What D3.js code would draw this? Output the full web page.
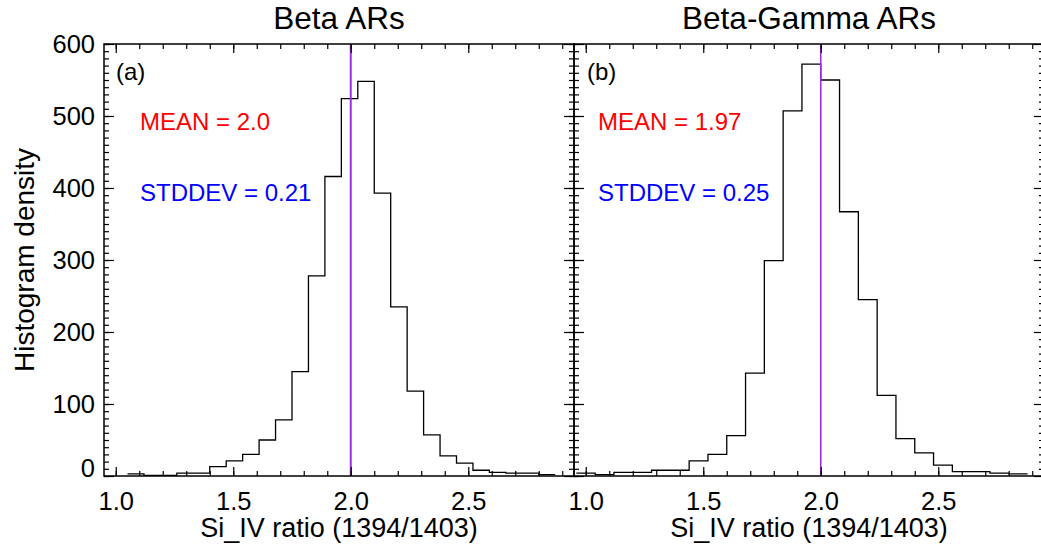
<!DOCTYPE html>
<meta charset="utf-8">
<title>Si IV ratio histograms</title>
<style>
body { margin: 0; background: #fff; }
svg { display: block; font-family: "Liberation Sans", Arial, sans-serif; }
.frame { fill: none; stroke: #000; stroke-width: 1.5; }
.axis path { display: none; }
.axis line { stroke: #000; stroke-width: 1.2; }
.axis text { font-size: 25.5px; fill: #000; font-family: "Liberation Sans", Arial, sans-serif; }
.hist { fill: none; stroke: #000; stroke-width: 1.3; }
.mean { stroke: #9b30e0; }
</style>
<svg width="1041" height="550"></svg>
<script src="https://d3js.org/d3.v7.min.js"></script>
<script>
// bin starts / widths
const betaStart = 1.05, betaWidth = 0.07;
const betaCounts = [3, 1, 1, 4, 4, 13, 21, 30, 50, 78, 145, 278, 416, 524, 548, 393, 235, 118, 57, 28, 18, 8, 5, 4, 4, 2];
const bgStart = 0.96, bgWidth = 0.08;
const bgCounts = [4, 2, 5, 5, 8, 8, 21, 30, 56, 143, 299, 507, 572, 550, 367, 245, 112, 52, 32, 15, 6, 6, 4, 3];

const panelTitles = ["Beta ARs", "Beta-Gamma ARs"];
const panelTags = ["(a)", "(b)"];
const meanLabels = ["MEAN = 2.0", "MEAN = 1.97"];
const stdLabels = ["STDDEV = 0.21", "STDDEV = 0.25"];
const meanLines = [2.0, 2.0];
const xMajor = [1.0, 1.5, 2.0, 2.5];
const yMajor = [0, 100, 200, 300, 400, 500, 600];

const svg = d3.select("svg");
const W = 470, H = 432, plotTop = 44;
const lefts = [104, 574];
const textLeft = [[116, 140], [587, 598]];

const x = d3.scaleLinear().domain([0.95, 2.95]).range([0, W]);
const y = d3.scaleLinear().domain([0, 600]).range([H, 0]);
const xMinor = d3.range(1.0, 2.95, 0.1);
const yMinor = d3.range(0, 601, 10);

const datasets = [
  betaCounts.map((c, i) => [betaStart + i * betaWidth, c]),
  bgCounts.map((c, i) => [bgStart + i * bgWidth, c])
];
datasets[0].push([betaStart + betaCounts.length * betaWidth, betaCounts[betaCounts.length - 1]]);
datasets[1].push([bgStart + bgCounts.length * bgWidth, bgCounts[bgCounts.length - 1]]);

const line = d3.line().curve(d3.curveStepAfter).x(d => x(d[0])).y(d => y(d[1]));

[0, 1].forEach(p => {
  const g = svg.append("g").attr("transform", `translate(${lefts[p]},${plotTop})`);

  g.append("path").attr("class", "hist").attr("d", line(datasets[p]));
  g.append("line").attr("class", "mean")
    .attr("x1", x(meanLines[p])).attr("x2", x(meanLines[p]))
    .attr("y1", 0).attr("y2", H)
    .attr("stroke-width", p === 0 ? 2 : 1.6);

  // minor ticks
  g.append("g").attr("class", "axis").attr("transform", `translate(0,${H})`)
    .call(d3.axisBottom(x).tickValues(xMinor).tickSizeInner(-5).tickSizeOuter(0).tickFormat(""));
  g.append("g").attr("class", "axis")
    .call(d3.axisTop(x).tickValues(xMinor).tickSizeInner(-5).tickSizeOuter(0).tickFormat(""));
  g.append("g").attr("class", "axis")
    .call(d3.axisLeft(y).tickValues(yMinor).tickSizeInner(-5).tickSizeOuter(0).tickFormat(""));
  g.append("g").attr("class", "axis").attr("transform", `translate(${W},0)`)
    .call(d3.axisRight(y).tickValues(yMinor).tickSizeInner(-5).tickSizeOuter(0).tickFormat(""));

  // major ticks
  g.append("g").attr("class", "axis").attr("transform", `translate(0,${H})`)
    .call(d3.axisBottom(x).tickValues(xMajor).tickSizeInner(-9).tickSizeOuter(0)
      .tickPadding(16).tickFormat(d3.format(".1f")));
  g.append("g").attr("class", "axis")
    .call(d3.axisTop(x).tickValues(xMajor).tickSizeInner(-9).tickSizeOuter(0).tickFormat(""));
  const ya = g.append("g").attr("class", "axis")
    .call(d3.axisLeft(y).tickValues(yMajor).tickSizeInner(-10).tickSizeOuter(0)
      .tickPadding(9).tickFormat(p === 0 ? d3.format("d") : ""));
  ya.selectAll("text").filter(d => d === 0).attr("dy", "0.0em");
  g.append("g").attr("class", "axis").attr("transform", `translate(${W},0)`)
    .call(d3.axisRight(y).tickValues(yMajor).tickSizeInner(-10).tickSizeOuter(0).tickFormat(""));

  g.append("rect").attr("class", "frame").attr("width", W).attr("height", H);

  // labels
  g.append("text").attr("x", W / 2).attr("y", -15).attr("text-anchor", "middle")
    .style("font-size", "31.5px").text(panelTitles[p]);
  g.append("text").attr("x", W / 2).attr("y", 493).attr("text-anchor", "middle")
    .style("font-size", "27px").text("Si_IV ratio (1394/1403)");
  g.append("text").attr("x", textLeft[p][0] - lefts[p]).attr("y", 36)
    .style("font-size", "24px").text(panelTags[p]);
  g.append("text").attr("x", textLeft[p][1] - lefts[p]).attr("y", 86)
    .style("font-size", "24px").attr("fill", "#ff0000").text(meanLabels[p]);
  g.append("text").attr("x", textLeft[p][1] - lefts[p]).attr("y", 157)
    .style("font-size", "24px").attr("fill", "#0000ff").text(stdLabels[p]);
});

svg.append("text").attr("transform", `translate(34,${plotTop + H / 2}) rotate(-90)`)
  .attr("text-anchor", "middle").style("font-size", "28px").text("Histogram density");
</script>
